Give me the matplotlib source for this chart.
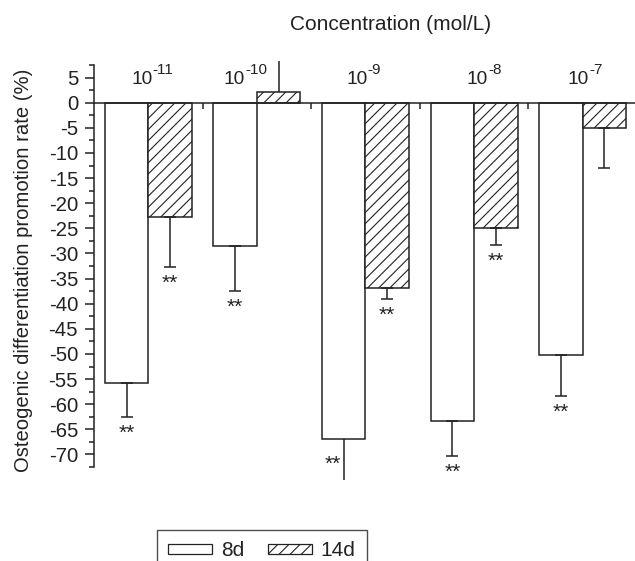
import matplotlib
matplotlib.use("Agg")
import matplotlib.pyplot as plt
import matplotlib.transforms as mtransforms
import numpy as np
from matplotlib.patches import Patch

plt.rcParams['font.family'] = ['Liberation Sans', 'DejaVu Sans']
plt.rcParams['axes.unicode_minus'] = False
plt.rcParams['hatch.linewidth'] = 0.8
plt.rcParams['hatch.color'] = '#555555'

# ---- data ----
conc_base = ['10', '10', '10', '10', '10']
conc_exp = ['-11', '-10', '-9', '-8', '-7']
series_names = ['8d', '14d']
vals_8d = [-55.8, -28.6, -66.9, -63.4, -50.2]
err_8d = [6.8, 8.9, 8.1, 6.9, 8.2]
vals_14d = [-22.8, 2.2, -36.9, -25.0, -5.1]
err_14d = [9.9, 6.0, 2.2, 3.4, 7.8]
sig_8d = ['**', '**', '**', '**', '**']
sig_14d = ['**', '', '**', '**', '']
y_ticks = [5, 0, -5, -10, -15, -20, -25, -30, -35, -40, -45, -50, -55, -60, -65, -70]
# where each concentration label sits along the category axis
label_pos = [0.04, 0.89, 2.02, 3.13, 4.06]

ink = '#222222'
FS = 15
W, H = 635, 561
fig = plt.figure(figsize=(W / 100, H / 100), dpi=100)
ax = fig.add_axes([94 / W, 1 - 467 / H, (637 - 94) / W, (467 - 65) / H])

x = np.arange(len(conc_base))
bw = 0.4
ylo, yhi = -72.5, 7.5

ax.bar(x - bw / 2, vals_8d, bw, facecolor='white', edgecolor=ink, linewidth=1.1, zorder=2)
ax.bar(x + bw / 2, vals_14d, bw, facecolor='white', edgecolor=ink, linewidth=1.1,
       hatch='///', zorder=2)

def draw_err(xs, vals, errs, sigs):
    for xi, v, e, s in zip(xs, vals, errs, sigs):
        sign = 1 if v >= 0 else -1
        end = v + sign * e
        outside = end < ylo or end > yhi
        ax.errorbar([xi], [v], yerr=[[e if sign < 0 else 0], [e if sign > 0 else 0]],
                    fmt='none', ecolor=ink, elinewidth=1.1, capsize=0 if outside else 4,
                    capthick=1.1, clip_on=False, zorder=3)
        if s:
            if end < ylo:
                ax.text(xi - 0.03, ylo + 0.6, s, ha='right', va='center', fontsize=FS, color=ink)
            else:
                ax.text(xi, end - 1.3, s, ha='center', va='top', fontsize=FS, color=ink)

draw_err(x - bw / 2, vals_8d, err_8d, sig_8d)
draw_err(x + bw / 2, vals_14d, err_14d, sig_14d)

ax.set_xlim(-0.5, 4.5)
ax.set_ylim(ylo, yhi)
ax.spines['top'].set_visible(False)
ax.spines['right'].set_visible(False)
ax.spines['bottom'].set_position(('data', 0))
for sp in ['left', 'bottom']:
    ax.spines[sp].set_color(ink)
    ax.spines[sp].set_linewidth(1.1)
    ax.spines[sp].set_zorder(4)

ax.set_yticks(y_ticks)
ax.set_yticks(np.arange(-72.5, 7.6, 2.5), minor=True)
ax.tick_params(axis='y', which='major', length=6.5, width=1.1, color=ink, labelsize=14.6,
               labelcolor=ink, pad=5)
ax.tick_params(axis='y', which='minor', length=3.5, width=1.1, color=ink)
ax.set_xticks(np.arange(0.5, 4.5, 1.0))
ax.set_xticklabels([])
ax.tick_params(axis='x', which='major', direction='out', length=4, width=1.1, color=ink)

t_base = mtransforms.offset_copy(ax.transData, fig=fig, x=0, y=0, units='dots')
t_exp = mtransforms.offset_copy(ax.transData, fig=fig, x=0, y=10, units='dots')
for xp, b, e in zip(label_pos, conc_base, conc_exp):
    ax.text(xp, 3.75, b, ha='right', va='baseline', fontsize=13.8, color=ink, transform=t_base)
    ax.text(xp, 3.75, e, ha='left', va='baseline', fontsize=11, color=ink, transform=t_exp)

ax.set_ylabel('Osteogenic differentiation promotion rate (%)', fontsize=14.6, color=ink)
ax.yaxis.set_label_coords(-0.112, 0.49)

fig.text(391 / W, 1 - 25 / H, 'Concentration (mol/L)', ha='center', va='center',
         fontsize=FS, color=ink)

handles = [Patch(facecolor='white', edgecolor=ink, linewidth=0.9),
           Patch(facecolor='white', edgecolor=ink, linewidth=0.9, hatch='///')]
leg = fig.legend(handles, series_names, loc='upper left', bbox_to_anchor=(157 / W, 1 - 530 / H),
                 ncol=2, frameon=True, fancybox=False, borderaxespad=0, fontsize=FS,
                 handlelength=2.1, handleheight=0.4, handletextpad=0.45, columnspacing=1.1,
                 borderpad=0.55, labelcolor=ink)
leg.get_frame().set_edgecolor(ink)
leg.get_frame().set_linewidth(1.0)

fig.savefig('out.png', dpi=100)
